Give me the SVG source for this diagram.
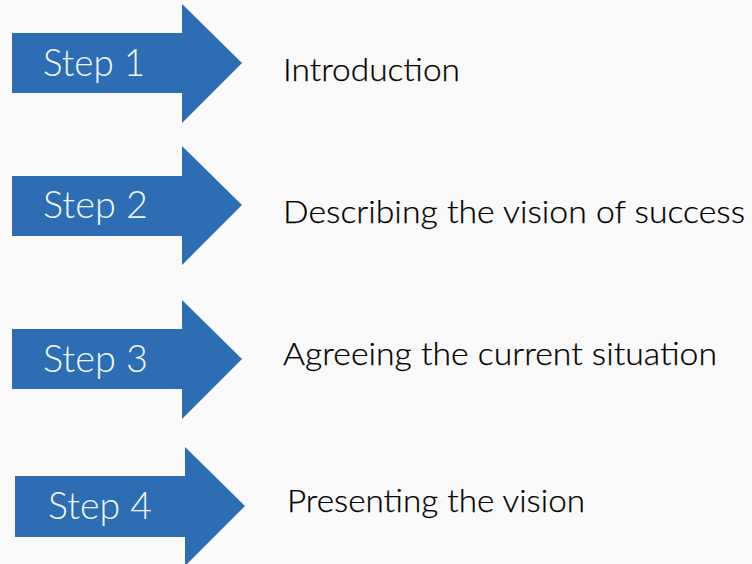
<svg xmlns="http://www.w3.org/2000/svg" width="752" height="564" viewBox="0 0 752 564">
  <defs>
    <style>
      .arrow { fill: #2c6db3; }
      .step { font-family: Lato, "Open Sans", "Liberation Sans", sans-serif; font-weight: 300; font-size: 38px; fill: #f4f6fa; }
      .label { font-family: Lato, "Open Sans", "Liberation Sans", sans-serif; font-weight: 300; font-size: 32px; fill: #000000; stroke: #000000; stroke-width: 0.25px; }
    </style>
  </defs>
  <rect width="752" height="564" fill="#f9f9f9"/>

  <g id="step1">
    <polygon class="arrow" points="12,33 182,33 182,4 242,63 182,123 182,93 12,93"/>
    <text class="step" x="43" y="76" textLength="102" lengthAdjust="spacingAndGlyphs">Step 1</text>
  </g>
  <g id="label1">
    <text class="label" x="283" y="81" textLength="177" lengthAdjust="spacingAndGlyphs">Introduction</text>
  </g>

  <g id="step2">
    <polygon class="arrow" points="12,176 182,176 182,146 242,205 182,265 182,236 12,236"/>
    <text class="step" x="43" y="218" textLength="105" lengthAdjust="spacingAndGlyphs">Step 2</text>
  </g>
  <g id="label2">
    <text class="label" x="283" y="223" textLength="462" lengthAdjust="spacingAndGlyphs">Describing the vision of success</text>
  </g>

  <g id="step3">
    <polygon class="arrow" points="12,329 182,329 182,300 242,359 182,419 182,389 12,389"/>
    <text class="step" x="43" y="372" textLength="105" lengthAdjust="spacingAndGlyphs">Step 3</text>
  </g>
  <g id="label3">
    <text class="label" x="283" y="365" textLength="434" lengthAdjust="spacingAndGlyphs">Agreeing the current situation</text>
  </g>

  <g id="step4">
    <polygon class="arrow" points="15,476 185,476 185,447 245,506 185,566 185,537 15,537"/>
    <text class="step" x="48" y="519" textLength="104" lengthAdjust="spacingAndGlyphs">Step 4</text>
  </g>
  <g id="label4">
    <text class="label" x="287" y="512" textLength="298" lengthAdjust="spacingAndGlyphs">Presenting the vision</text>
  </g>

  <g id="connectors"></g>
</svg>
